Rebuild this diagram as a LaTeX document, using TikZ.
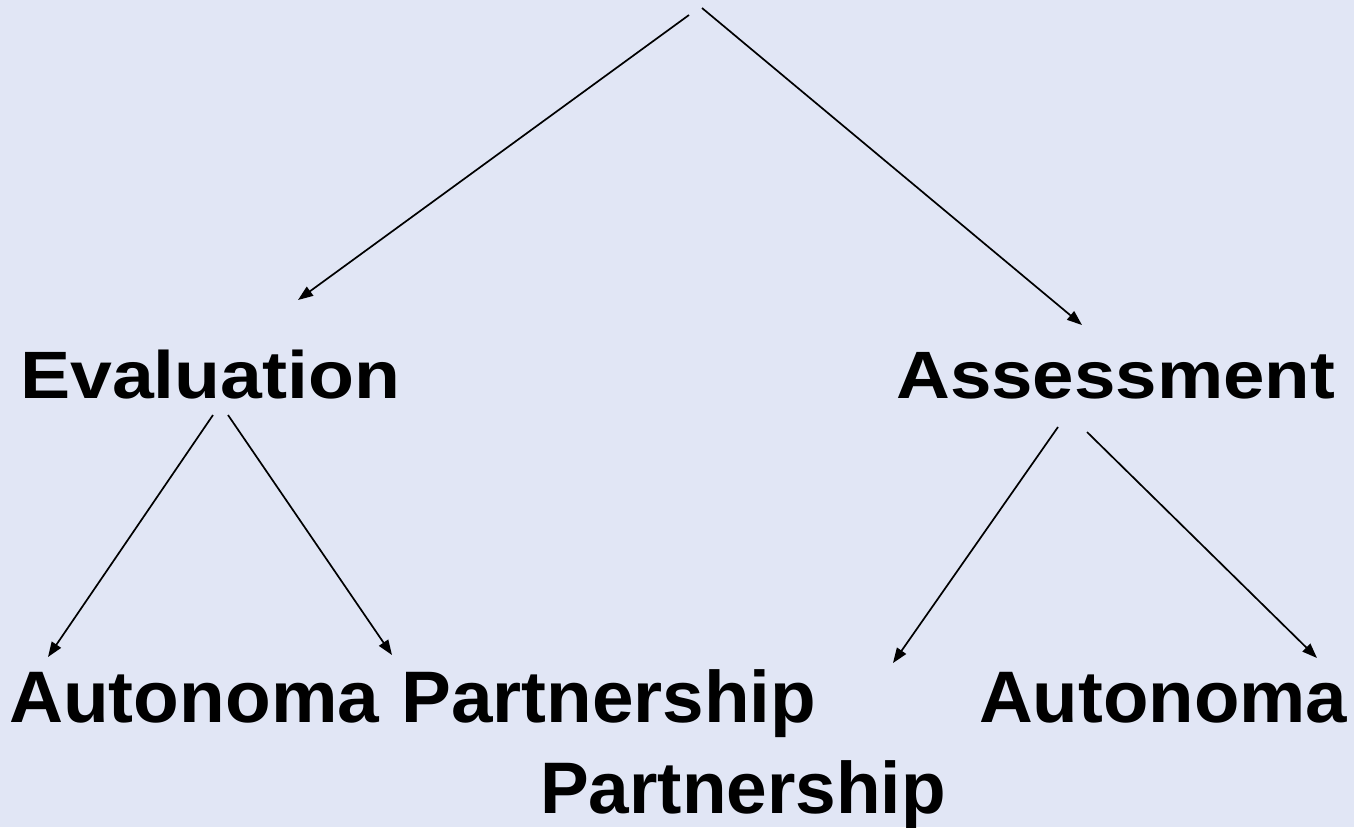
\documentclass[tikz,border=0pt]{standalone}
\usepackage{fontspec}
\setmainfont{Liberation Sans}
\usetikzlibrary{arrows.meta}
\definecolor{bg}{RGB}{225,230,245}
\tikzset{
  lbl/.style={anchor=base west, inner sep=0pt, font=\fontsize{73}{80}\selectfont\bfseries, text=black},
  lbltop/.style={anchor=base west, inner sep=0pt, font=\fontsize{67}{72}\selectfont\bfseries, text=black},
  conn/.style={draw=black, line width=1.7pt, -{Triangle[length=15pt,width=11pt]}}
}
\begin{document}
\begin{tikzpicture}[x=1pt,y=-1pt]
\fill[bg] (0,0) rectangle (1354,827);
\useasboundingbox (0,0) rectangle (1354,827);
\node[lbltop] (ev) at (20,398) {\scalebox{1.122}[1]{Evaluation}};
\node[lbltop] (as) at (896,398) {\scalebox{1.112}[1]{Assessment}};
\node[lbl] (au1) at (9,722) {\scalebox{1.025}[1]{Autonoma}};
\node[lbl] (pa1) at (401,722) {\scalebox{1.023}[1]{Partnership}};
\node[lbl] (au2) at (979,722) {\scalebox{1.02}[1]{Autonoma}};
\node[lbl] (pa2) at (540,813) {Partnership};
\coordinate (rootL) at (689,15);
\coordinate (rootR) at (702,8);
\coordinate (evTopIn) at (298,300);
\coordinate (asTopIn) at (1082,325);
\coordinate (evOutL) at (213,415);
\coordinate (evOutR) at (228,415);
\coordinate (au1In) at (48,657);
\coordinate (pa1In) at (392,655);
\coordinate (asOutL) at (1058,427);
\coordinate (asOutR) at (1087,432);
\coordinate (pa2In) at (893,663);
\coordinate (au2In) at (1317,658);
\draw[conn] (rootL) -- (evTopIn);
\draw[conn] (rootR) -- (asTopIn);
\draw[conn] (evOutL) -- (au1In);
\draw[conn] (evOutR) -- (pa1In);
\draw[conn] (asOutL) -- (pa2In);
\draw[conn] (asOutR) -- (au2In);
\end{tikzpicture}
\end{document}
